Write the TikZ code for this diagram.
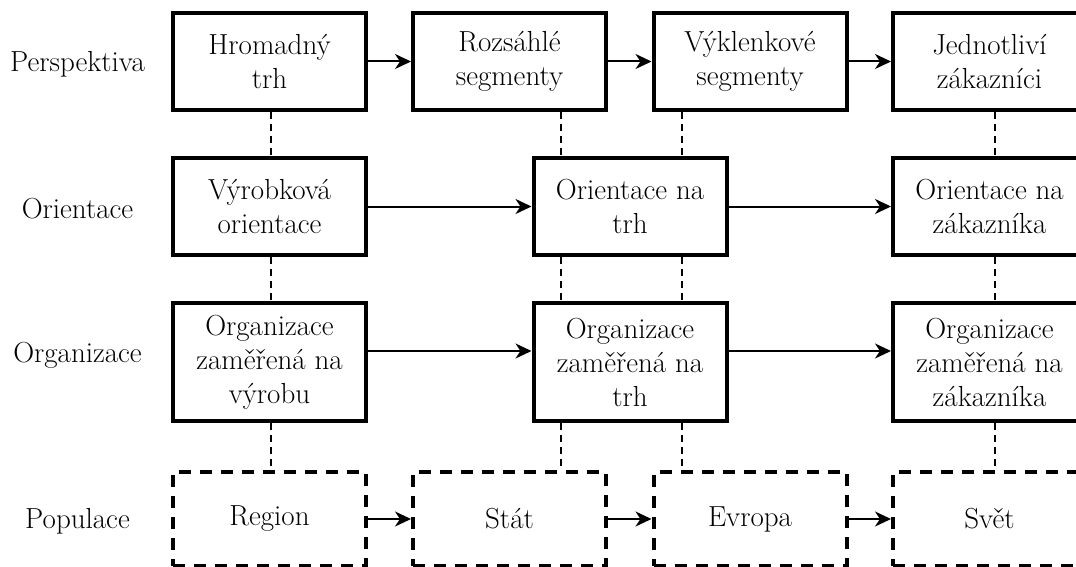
\documentclass[tikz,border=0pt]{standalone}
\usepackage{fontspec}
\newfontfamily\boxfont{Latin Modern Roman}
\usetikzlibrary{arrows.meta}

\tikzset{
  box/.style={draw, line width=4pt, rectangle, inner sep=0pt, minimum width=193pt,
    align=center, font=\boxfont\fontsize{29}{34}\selectfont},
  dbox/.style={box, dash pattern=on 12pt off 9pt},
  rowlabel/.style={font=\boxfont\fontsize{29}{34}\selectfont, anchor=center},
  flow/.style={line width=2pt, -{Stealth[length=16pt,width=15pt,inset=5pt]}},
  link/.style={line width=1.6pt, dash pattern=on 7pt off 5pt},
}

\begin{document}
\begin{tikzpicture}[x=1pt,y=-1pt]
\useasboundingbox (0,0) rectangle (1076,567);
\clip (0,0) rectangle (1076,567);

% row labels
\node[rowlabel] (lp) at (77.5,64) {Perspektiva};
\node[rowlabel] (lo) at (77.5,209) {Orientace};
\node[rowlabel] (lg) at (77.5,355) {Organizace};
\node[rowlabel] (lq) at (77.5,521) {Populace};

% perspective row
\node[box, minimum height=97pt] (a1) at (269.5,61.5) {Hromadný\\trh};
\node[box, minimum height=97pt] (b1) at (509.5,61.5) {Rozsáhlé\\segmenty};
\node[box, minimum height=97pt] (c1) at (750,61.5) {Výklenkové\\segmenty};
\node[box, minimum height=97pt] (d1) at (989.5,61.5) {Jednotliví\\zákazníci};

% orientation row
\node[box, minimum height=97pt] (a2) at (269.5,206.5) {Výrobková\\orientace};
\node[box, minimum height=97pt] (m2) at (630,206.5) {Orientace na\\trh};
\node[box, minimum height=97pt] (d2) at (989.5,206.5) {Orientace na\\zákazníka};

% organisation row
\node[box, minimum height=118pt] (a3) at (269.5,362) {Organizace\\zaměřená na\\výrobu};
\node[box, minimum height=118pt] (m3) at (630,362) {Organizace\\zaměřená na\\trh};
\node[box, minimum height=118pt] (d3) at (989.5,362) {Organizace\\zaměřená na\\zákazníka};

% population row
\node[dbox, minimum height=94pt] (a4) at (269.5,519) {Region};
\node[dbox, minimum height=94pt] (b4) at (509.5,519) {Stát};
\node[dbox, minimum height=94pt] (c4) at (750,519) {Evropa};
\node[dbox, minimum height=94pt] (d4) at (989.5,519) {Svět};

% vertical guide positions
\coordinate (xa) at (271,0);
\coordinate (xl) at (561,0);
\coordinate (xr) at (682,0);
\coordinate (xd) at (995,0);

% horizontal flow
\draw[flow] (a1.east) -- (b1.west);
\draw[flow] (b1.east) -- (c1.west);
\draw[flow] (c1.east) -- (d1.west);
\draw[flow] (a2.east) -- (m2.west);
\draw[flow] (m2.east) -- (d2.west);
\draw[flow] ([yshift=11pt]a3.east) -- ([yshift=11pt]m3.west);
\draw[flow] ([yshift=11pt]m3.east) -- ([yshift=11pt]d3.west);
\draw[flow] (a4.east) -- (b4.west);
\draw[flow] (b4.east) -- (c4.west);
\draw[flow] (c4.east) -- (d4.west);

% dashed vertical links
\draw[link] (a1.south -| xa) -- (a2.north -| xa);
\draw[link] (a2.south -| xa) -- (a3.north -| xa);
\draw[link] (a3.south -| xa) -- (a4.north -| xa);
\draw[link] (b1.south -| xl) -- (m2.north -| xl);
\draw[link] (c1.south -| xr) -- (m2.north -| xr);
\draw[link] (m2.south -| xl) -- (m3.north -| xl);
\draw[link] (m2.south -| xr) -- (m3.north -| xr);
\draw[link] (m3.south -| xl) -- (b4.north -| xl);
\draw[link] (m3.south -| xr) -- (c4.north -| xr);
\draw[link] (d1.south -| xd) -- (d2.north -| xd);
\draw[link] (d2.south -| xd) -- (d3.north -| xd);
\draw[link] (d3.south -| xd) -- (d4.north -| xd);
\end{tikzpicture}
\end{document}
